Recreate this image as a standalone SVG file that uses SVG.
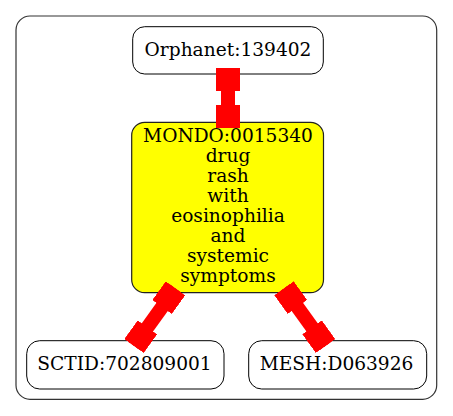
<svg xmlns="http://www.w3.org/2000/svg" width="453" height="416" viewBox="0 0 453 416">
<style>
.node rect{fill:#fff;stroke:#000;stroke-width:1}
.node.focus rect{fill:#ffff00;stroke:#222;stroke-width:1.2}
text{font-family:"DejaVu Serif",serif;font-size:18.6px;fill:#000;text-anchor:middle}
.edge{stroke:#ff0000;stroke-width:14;fill:none;marker-start:url(#box);marker-end:url(#box)}
</style>
<defs>
<marker id="box" markerUnits="userSpaceOnUse" viewBox="0 0 23 24" markerWidth="23" markerHeight="24" refX="23" refY="12" orient="auto-start-reverse">
<rect x="0" y="0" width="23" height="24" fill="#ff0000"/>
</marker>
</defs>
<rect x="16" y="16" width="420.7" height="383.3" rx="14" ry="14" fill="#fff" stroke="#333" stroke-width="1.2"/>
<g id="orphanet" class="node">
<rect x="132.7" y="26.7" width="190.6" height="47.3" rx="12" ry="12"/>
<text x="228" y="55.7">Orphanet:139402</text>
</g>
<g id="mondo" class="node focus">
<rect x="131.7" y="122.3" width="191.8" height="170.4" rx="13" ry="13"/>
<text x="228" y="142.3">MONDO:0015340</text>
<text x="228" y="162.2">drug</text>
<text x="228" y="182.1">rash</text>
<text x="228" y="202">with</text>
<text x="228" y="221.9">eosinophilia</text>
<text x="228" y="241.8">and</text>
<text x="228" y="261.7">systemic</text>
<text x="228" y="281.6">symptoms</text>
</g>
<g id="sctid" class="node">
<rect x="26.7" y="340.7" width="197.3" height="48.3" rx="13" ry="13"/>
<text x="124.5" y="370">SCTID:702809001</text>
</g>
<g id="mesh" class="node">
<rect x="248.7" y="340.7" width="178" height="48.3" rx="13" ry="13"/>
<text x="336.5" y="370">MESH:D063926</text>
</g>
<g id="connectors">
<path class="edge" d="M228,68 L228,128"/>
<path class="edge" d="M175.5,288.3 L134,346"/>
<path class="edge" d="M284,288.3 L325.5,346"/>
</g>
</svg>
